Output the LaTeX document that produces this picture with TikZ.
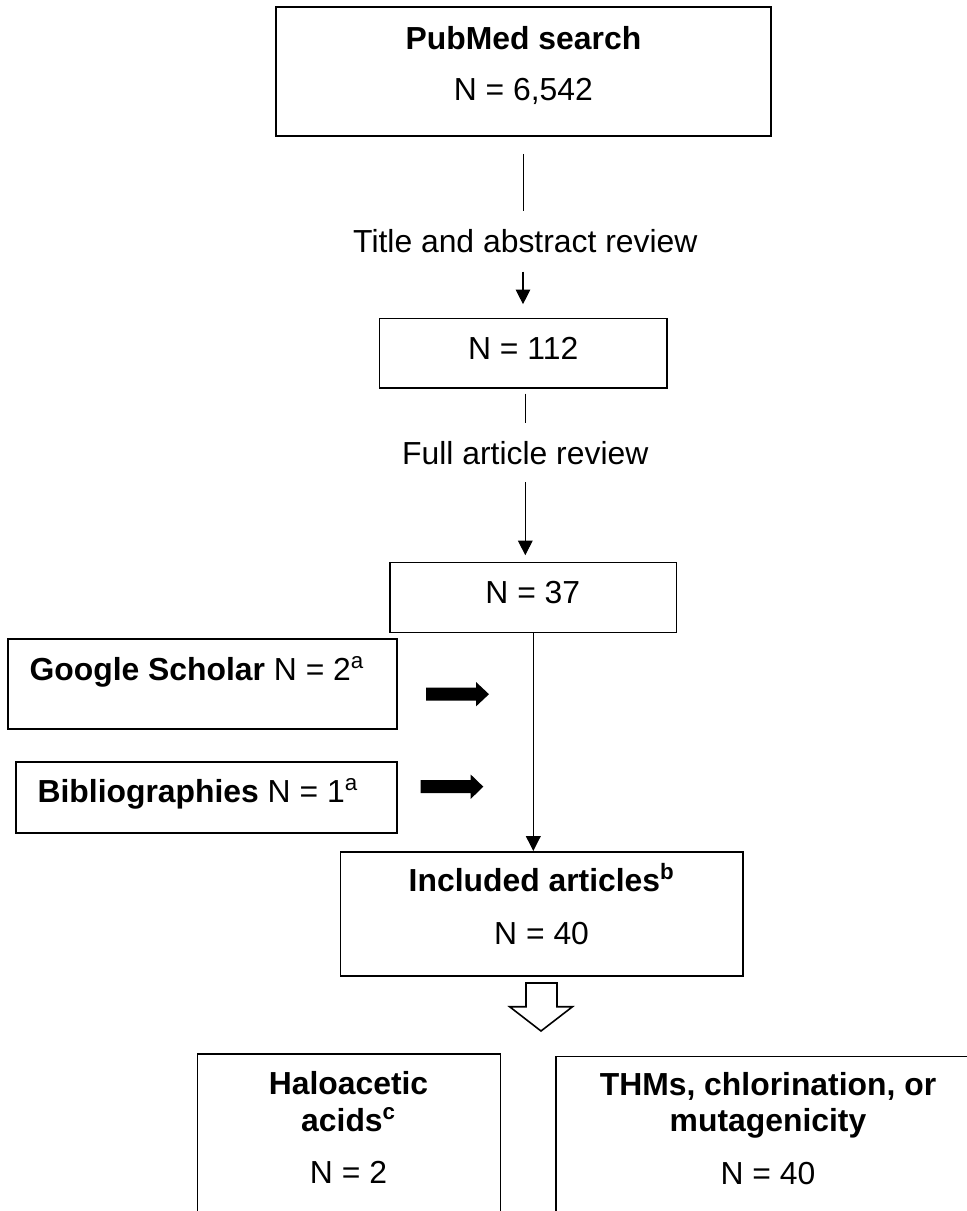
\documentclass[tikz,border=0pt]{standalone}
\usepackage{fontspec}
\setmainfont{Liberation Sans}
\usetikzlibrary{arrows.meta}
\begin{document}
\begin{tikzpicture}[x=0.75pt,y=-0.75pt,
  box/.style={draw=black, line width=1.2pt, inner sep=0pt},
  txt/.style={inner sep=0pt, anchor=base, font=\fontsize{23.9pt}{28pt}\selectfont},
  conn/.style={draw=black, line width=0.8pt},
  arr/.style={conn, -{Triangle[length=11pt,width=11pt]}},
  blockarrow/.style={fill=black, draw=none},
  hollowarrow/.style={draw=black, fill=white, line width=1.2pt, line join=miter},
]
\useasboundingbox (0,0) rectangle (967,1211);
\clip (0,0) rectangle (967,1211);
\fill[white] (0,0) rectangle (967,1211);

% boxes
\node[box, minimum width=371.25pt, minimum height=96.75pt] (pub) at (523.5,71.2) {};
\node[box, minimum width=215.55pt, minimum height=52.05pt] (n112) at (523,353) {};
\node[box, minimum width=215.0pt, minimum height=52.5pt] (n37) at (533.3,597.3) {};
\node[box, minimum width=291.75pt, minimum height=67.5pt] (gs) at (202.5,684.2) {};
\node[box, minimum width=285.75pt, minimum height=53.25pt] (bib) at (206.5,797.2) {};
\node[box, minimum width=301.9pt, minimum height=93pt] (inc) at (541.75,913.7) {};
\node[box, minimum width=227.25pt, minimum height=139.5pt] (haa) at (349,1147) {};
\node[box, minimum width=318.4pt, minimum height=138pt] (thm) at (768,1148.3) {};

% texts
\node[txt] (pubt) at (523.5,49) {\textbf{PubMed search}};
\node[txt] (pubn) at (523.3,100) {N = 6,542};
\node[txt] (tar) at (525.3,252.5) {Title and abstract review};
\node[txt] (n112t) at (523.2,359.3) {N = 112};
\node[txt] (far) at (525.3,464) {Full article review};
\node[txt] (n37t) at (532.8,603.3) {N = 37};
\node[txt, anchor=base west] (gst) at (29.3,680.7) {\textbf{Google Scholar} N = 2\textsuperscript{a}};
\node[txt, anchor=base west] (bibt) at (37.3,802.3) {\textbf{Bibliographies} N = 1\textsuperscript{a}};
\node[txt] (inct) at (541.6,891.7) {\textbf{Included articles\textsuperscript{b}}};
\node[txt] (incn) at (541.6,944.3) {N = 40};
\node[txt] (haat1) at (348.5,1094.5) {\textbf{Haloacetic}};
\node[txt] (haat2) at (348.5,1131.7) {\textbf{acids\textsuperscript{c}}};
\node[txt] (haan) at (348.5,1183.3) {N = 2};
\node[txt] (thmt1) at (768,1095) {\textbf{THMs, chlorination, or}};
\node[txt] (thmt2) at (768,1131.7) {\textbf{mutagenicity}};
\node[txt] (thmn) at (768,1184.5) {N = 40};

% connectors
\draw[conn, shorten <=13pt, shorten >=13.4pt] (pub.south) -- (pub.south |- tar.north);
\draw[arr, shorten <=13.9pt, shorten >=10pt] (tar.south -| n112.north) -- (n112.north);
\draw[conn, shorten <=3.75pt, shorten >=13.5pt] (far.north |- n112.south) -- (far.north);
\draw[arr, shorten <=13.3pt, shorten >=4.7pt] (far.south) -- (far.south |- n37.north);
\draw[arr] (n37.south) -- (n37.south |- inc.north);

% block arrows
\fill[blockarrow] (426,687.7) -- (476,687.7) -- (476,682) -- (489,694.2) -- (476,706.4) -- (476,700.7) -- (426,700.7) -- cycle;
\fill[blockarrow] (420.7,780.2) -- (470.7,780.2) -- (470.7,774.5) -- (483.3,786.7) -- (470.7,798.9) -- (470.7,793.2) -- (420.7,793.2) -- cycle;

% hollow down arrow
\draw[hollowarrow] (526,983) -- (557,983) -- (557,1006.7) -- (572.5,1006.7) -- (541,1031) -- (509.6,1006.7) -- (526,1006.7) -- cycle;
\end{tikzpicture}
\end{document}
